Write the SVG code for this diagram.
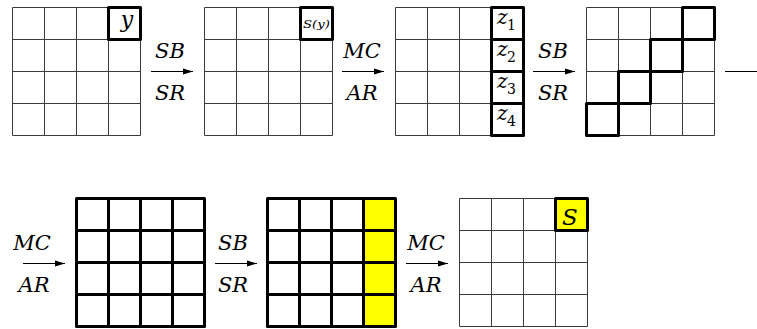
<svg xmlns="http://www.w3.org/2000/svg" width="757" height="329" viewBox="0 0 757 329">
  <style>
    .thin { fill: none; stroke: #3a3a3a; stroke-width: 1; }
    .thick { fill: none; stroke: #000; stroke-width: 3; stroke-linejoin: round; stroke-linecap: round; }
    .lbl { font-family: "DejaVu Serif", "Liberation Serif", serif; font-style: italic; font-size: 21px; fill: #000; text-anchor: middle; }
    .cell { font-family: "DejaVu Serif", "Liberation Serif", serif; font-style: italic; fill: #000; }
    .sub { font-family: "DejaVu Serif", "Liberation Serif", serif; font-style: normal; font-size: 14px; fill: #000; }
    .arr { stroke: #000; stroke-width: 1; fill: none; marker-end: url(#ah); }
    .yel { fill: #ffff00; stroke: none; }
  </style>
  <defs>
    <marker id="ah" viewBox="0 0 10 10" refX="10" refY="5" markerWidth="10" markerHeight="10" markerUnits="userSpaceOnUse" orient="auto">
      <path d="M0,2 L10,5 L0,8 Z" fill="#000"/>
    </marker>
    <path id="gridThin" class="thin" d="M0,0H128V128H0Z M32,0V128 M64,0V128 M96,0V128 M0,32H128 M0,64H128 M0,96H128"/>
    <path id="gridThick" class="thick" d="M0,0H128V128H0Z M32,0V128 M64,0V128 M96,0V128 M0,32H128 M0,64H128 M0,96H128"/>
  </defs>

  <g id="state1">
    <use href="#gridThin" x="12.5" y="7.5"/>
    <rect class="thick" x="108.5" y="7.5" width="32" height="32"/>
    <text class="cell" x="127" y="27" font-size="22" text-anchor="middle">y</text>
  </g>

  <g id="state2">
    <use href="#gridThin" x="204.5" y="7.5"/>
    <rect class="thick" x="300.5" y="7.5" width="32" height="32"/>
    <text class="cell" x="316.5" y="28" font-size="11" text-anchor="middle" font-style="normal" textLength="27" lengthAdjust="spacingAndGlyphs"><tspan font-style="italic">S</tspan>(<tspan font-style="italic">y</tspan>)</text>
  </g>

  <g id="state3">
    <use href="#gridThin" x="395.5" y="7.5"/>
    <rect class="thick" x="491.5" y="7.5" width="32" height="32"/>
    <rect class="thick" x="491.5" y="39.5" width="32" height="32"/>
    <rect class="thick" x="491.5" y="71.5" width="32" height="32"/>
    <rect class="thick" x="491.5" y="103.5" width="32" height="32"/>
    <text class="cell" x="497" y="24" font-size="20">z</text><text class="sub" x="507" y="30">1</text>
    <text class="cell" x="497" y="56" font-size="20">z</text><text class="sub" x="507" y="62">2</text>
    <text class="cell" x="497" y="88" font-size="20">z</text><text class="sub" x="507" y="94">3</text>
    <text class="cell" x="497" y="120" font-size="20">z</text><text class="sub" x="507" y="126">4</text>
  </g>

  <g id="state4">
    <use href="#gridThin" x="586.5" y="7.5"/>
    <rect class="thick" x="682.5" y="7.5" width="32" height="32"/>
    <rect class="thick" x="650.5" y="39.5" width="32" height="32"/>
    <rect class="thick" x="618.5" y="71.5" width="32" height="32"/>
    <rect class="thick" x="586.5" y="103.5" width="32" height="32"/>
  </g>

  <g id="state5">
    <use href="#gridThick" x="76.5" y="198.5"/>
  </g>

  <g id="state6">
    <rect class="yel" x="363.5" y="198.5" width="32" height="128"/>
    <use href="#gridThick" x="267.5" y="198.5"/>
  </g>

  <g id="state7">
    <rect class="yel" x="555.5" y="198.5" width="32" height="32"/>
    <use href="#gridThin" x="459.5" y="198.5"/>
    <rect class="thick" x="555.5" y="198.5" width="32" height="32"/>
    <text class="cell" x="570" y="225" font-size="23" text-anchor="middle">S</text>
  </g>

  <g id="connectors">
    <line class="arr" x1="151" y1="71.5" x2="193" y2="71.5"/>
    <text class="lbl" x="170" y="58">SB</text>
    <text class="lbl" x="170" y="100">SR</text>

    <line class="arr" x1="342" y1="71.5" x2="384" y2="71.5"/>
    <text class="lbl" x="362" y="58">MC</text>
    <text class="lbl" x="362" y="100">AR</text>

    <line class="arr" x1="533" y1="71.5" x2="575" y2="71.5"/>
    <text class="lbl" x="553" y="58">SB</text>
    <text class="lbl" x="553" y="100">SR</text>

    <line x1="725" y1="71.5" x2="757" y2="71.5" stroke="#000" stroke-width="1"/>

    <line class="arr" x1="23" y1="263.5" x2="65" y2="263.5"/>
    <text class="lbl" x="32" y="250">MC</text>
    <text class="lbl" x="34" y="292">AR</text>

    <line class="arr" x1="215" y1="263.5" x2="257" y2="263.5"/>
    <text class="lbl" x="233" y="250">SB</text>
    <text class="lbl" x="233" y="292">SR</text>

    <line class="arr" x1="406" y1="263.5" x2="448" y2="263.5"/>
    <text class="lbl" x="426" y="250">MC</text>
    <text class="lbl" x="426" y="292">AR</text>
  </g>
</svg>
